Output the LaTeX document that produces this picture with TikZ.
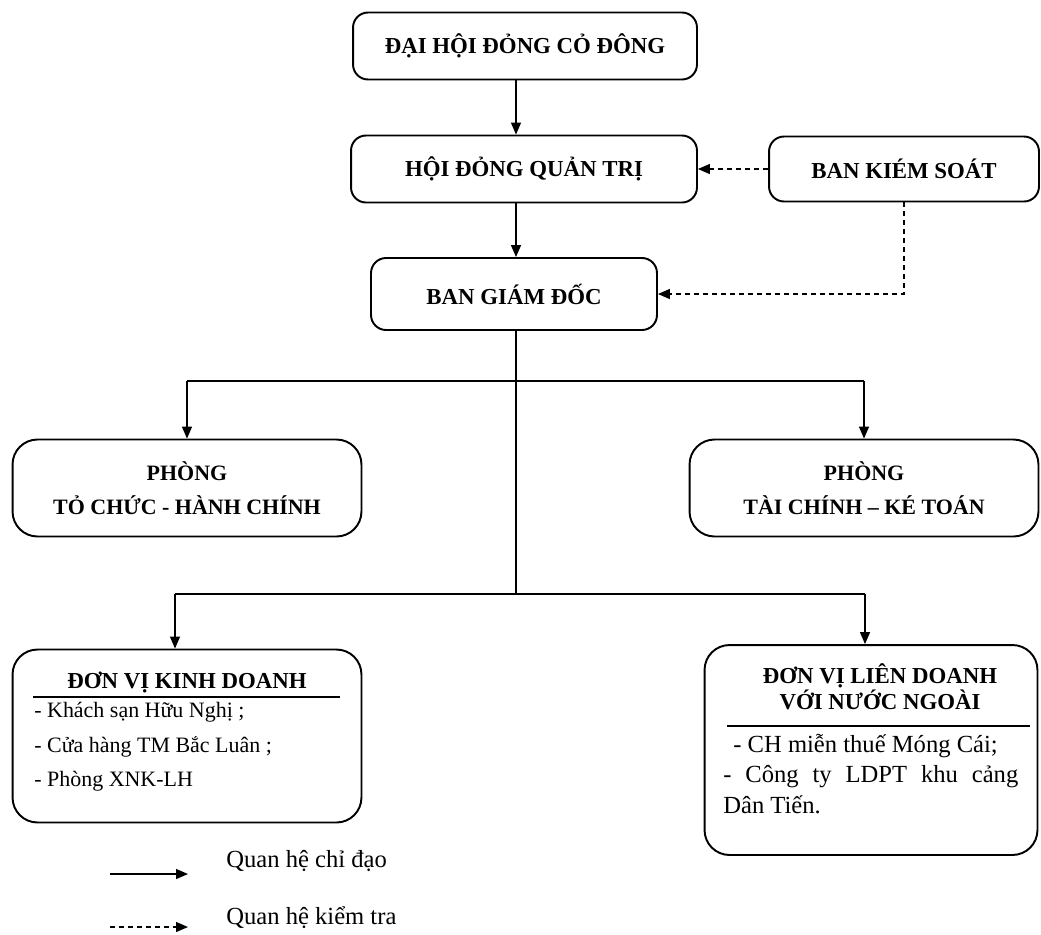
\documentclass[tikz,border=0pt]{standalone}
\usepackage{fontspec}
\setmainfont{Liberation Serif}
\usetikzlibrary{arrows.meta}
\tikzset{
    khung/.style={draw, line width=1.1pt, rounded corners=0.3cm, align=center,
        font=\fontsize{13}{15}\selectfont\bfseries},
    khunglon/.style={khung, rounded corners=0.5cm},
    chu/.style={inner sep=0pt, align=left},
    chidao/.style={line width=0.8pt, -{Triangle[length=0.24cm,width=0.2cm]}},
    kiemtra/.style={chidao, dash pattern=on 0.1cm off 0.08cm},
}
\begin{document}
\begin{tikzpicture}[x=0.02cm,y=-0.02cm]
        \useasboundingbox (0,0) rectangle (1041,934);
        %% Top levels
        \node[khung, minimum width=6.88cm, minimum height=1.34cm] (dhcd) at (525,46) {ĐẠI HỘI ĐỎNG CỎ ĐÔNG};
        \node[khung, minimum width=6.92cm, minimum height=1.34cm] (hdqt) at (524,169) {HỘI ĐỎNG QUẢN TRỊ};
        \node[khung, minimum width=5.4cm, minimum height=1.3cm] (bks) at (904,169) {BAN KIÉM SOÁT};
        \node[khung, minimum width=5.72cm, minimum height=1.44cm] (bgd) at (514,294) {BAN GIÁM ĐỐC};
        %% Departments
        \node[khunglon, minimum width=6.98cm, minimum height=1.94cm, font=\fontsize{12.5}{19}\selectfont\bfseries]
            (tchc) at (187,488) {PHÒNG\\TỎ CHỨC - HÀNH CHÍNH};
        \node[khunglon, minimum width=6.98cm, minimum height=1.94cm, font=\fontsize{12.5}{19}\selectfont\bfseries]
            (tckt) at (864,488) {PHÒNG\\TÀI CHÍNH – KÉ TOÁN};
        %% Units
        \node[khunglon, minimum width=6.98cm, minimum height=3.46cm] (dvkd) at (187,736) {};
        \node[khunglon, minimum width=6.66cm, minimum height=4.2cm] (dvld) at (871,750) {};
        \node[chu, font=\fontsize{13}{15}\selectfont\bfseries] (tdkd) at (187,682) {ĐƠN VỊ KINH DOANH};
        \draw[line width=0.6pt] (33,697) -- (340,697);
        \node[chu, anchor=west, font=\fontsize{12.5}{19.6}\selectfont] (dskd) at (34,747)
            {- Khách sạn Hữu Nghị ;\\- Cửa hàng TM Bắc Luân ;\\- Phòng XNK-LH};
        \node[chu, align=center, font=\fontsize{13}{12}\selectfont\bfseries] (tdld) at (880,687)
            {ĐƠN VỊ LIÊN DOANH\\VỚI NƯỚC NGOÀI};
        \draw[line width=0.6pt] (727,726) -- (1030,726);
        \node[chu, anchor=west, font=\fontsize{14}{17.3}\selectfont] (dsld) at (723,774)
            {\hspace{0.2cm}- CH miễn thuế Móng Cái;\\\makebox[5.9cm][s]{- Công ty LDPT khu cảng}\\Dân Tiến.};
        %% Connectors
        \coordinate (truc) at (516,0);
        \coordinate (nhanh1) at (516,381);
        \coordinate (nhanh2) at (516,594);
        \coordinate (trai2) at (175,594);
        \coordinate (phai2) at (865,594);
        \draw[chidao] (dhcd.south -| truc) -- (hdqt.north -| truc);
        \draw[chidao] (hdqt.south -| truc) -- (bgd.north -| truc);
        \draw[kiemtra] (bks.west) -- (hdqt.east);
        \draw[kiemtra] (bks.south) |- (bgd.east);
        \draw[line width=0.8pt] (bgd.south -| truc) -- (nhanh2);
        \draw[line width=0.8pt] (tchc.north |- nhanh1) -- (tckt.north |- nhanh1);
        \draw[chidao] (tchc.north |- nhanh1) -- (tchc.north);
        \draw[chidao] (tckt.north |- nhanh1) -- (tckt.north);
        \draw[line width=0.8pt] (trai2) -- (phai2);
        \draw[chidao] (trai2) -- (dvkd.north -| trai2);
        \draw[chidao] (phai2) -- (dvld.north -| phai2);
        %% Legend
        \coordinate (cd1) at (110,874);
        \coordinate (cd2) at (188,874);
        \coordinate (kt1) at (110,927);
        \coordinate (kt2) at (188,927);
        \draw[chidao] (cd1) -- (cd2);
        \draw[kiemtra] (kt1) -- (kt2);
        \node[chu, anchor=west, font=\fontsize{14}{16}\selectfont] (lgcd) at (226,861) {Quan hệ chỉ đạo};
        \node[chu, anchor=west, font=\fontsize{14}{16}\selectfont] (lgkt) at (226,918) {Quan hệ kiểm tra};
    \end{tikzpicture}
\end{document}
